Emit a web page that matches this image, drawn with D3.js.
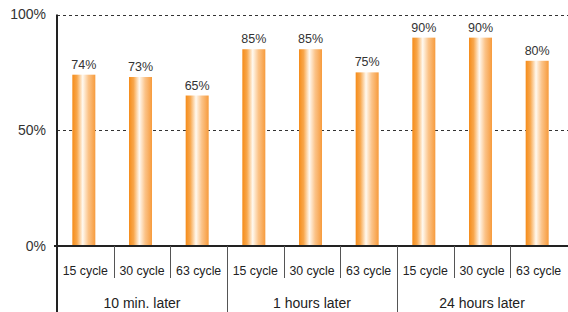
<!DOCTYPE html>
<html><head><meta charset="utf-8">
<script src="https://cdn.jsdelivr.net/npm/d3@7"></script>
<style>body{margin:0;background:#fff;}svg{display:block;font-family:"Liberation Sans",Arial,sans-serif;}</style>
</head><body><svg id="c" width="568" height="312"></svg>
<script>
const groups = ["10 min. later","1 hours later","24 hours later"];
const cycles = ["15 cycle","30 cycle","63 cycle"];
const values = [74,73,65,85,85,75,90,90,80];
const yTicks = [0,50,100];

const svg = d3.select("#c");
const x0 = 57, x1 = 567, yBase = 246, yTop = 14.5;
const cats = [];
groups.forEach((g,gi)=>cycles.forEach((c,ci)=>cats.push({g,c,key:gi+"-"+ci,v:values[gi*3+ci]})));

const x = d3.scaleBand().domain(cats.map(d=>d.key)).range([x0,x1]).paddingInner(0).paddingOuter(0);
const y = d3.scaleLinear().domain([0,100]).range([yBase,yTop]);

const defs = svg.append("defs");
const grad = defs.append("linearGradient").attr("id","bg").attr("x1","0").attr("x2","1").attr("y1","0").attr("y2","0");
grad.append("stop").attr("offset","0%").attr("stop-color","#f58c1a");
grad.append("stop").attr("offset","20%").attr("stop-color","#f8a74c");
grad.append("stop").attr("offset","45%").attr("stop-color","#fff9f0");
grad.append("stop").attr("offset","70%").attr("stop-color","#fbc388");
grad.append("stop").attr("offset","100%").attr("stop-color","#f79b3c");

// grid
svg.append("g").selectAll("line").data(yTicks.filter(t=>t>0)).join("line")
  .attr("x1",x0).attr("x2",568).attr("y1",d=>Math.round(y(d))+0.5).attr("y2",d=>Math.round(y(d))+0.5)
  .attr("stroke","#333").attr("stroke-width",1).attr("stroke-dasharray","3,3");

// y tick labels
svg.append("g").selectAll("text").data(yTicks).join("text")
  .attr("x",46).attr("y",d=>y(d)).attr("dy","0.35em").attr("text-anchor","end")
  .attr("font-size",14).attr("fill","#333").text(d=>d+"%");

const bw = 23;
// bars
svg.append("g").selectAll("rect").data(cats).join("rect")
  .attr("x",d=>x(d.key)+x.bandwidth()/2-bw/2-1.5).attr("width",bw)
  .attr("y",d=>y(d.v)).attr("height",d=>yBase-y(d.v)).attr("fill","url(#bg)");

// value labels
svg.append("g").selectAll("text").data(cats).join("text")
  .attr("x",d=>x(d.key)+x.bandwidth()/2-1.5).attr("y",d=>y(d.v)-6)
  .attr("text-anchor","middle").attr("font-size",12.5).attr("fill","#333").text(d=>d.v+"%");

// baseline
svg.append("line").attr("x1",x0-3).attr("x2",568).attr("y1",yBase).attr("y2",yBase).attr("stroke","#222").attr("stroke-width",2);
// y axis
svg.append("line").attr("x1",x0).attr("x2",x0).attr("y1",yTop).attr("y2",312).attr("stroke","#222").attr("stroke-width",2);

// minor dividers
svg.append("g").selectAll("line").data(cats.filter((d,i)=>i%3!==0)).join("line")
  .attr("x1",d=>Math.round(x(d.key))+0.5).attr("x2",d=>Math.round(x(d.key))+0.5)
  .attr("y1",yBase).attr("y2",278).attr("stroke","#555").attr("stroke-width",1);
// major dividers
svg.append("g").selectAll("line").data(cats.filter((d,i)=>i%3===0&&i>0)).join("line")
  .attr("x1",d=>Math.round(x(d.key))+0.5).attr("x2",d=>Math.round(x(d.key))+0.5)
  .attr("y1",yBase).attr("y2",312).attr("stroke","#555").attr("stroke-width",1);

// category labels
svg.append("g").selectAll("text").data(cats).join("text")
  .attr("x",d=>x(d.key)+x.bandwidth()/2).attr("y",275)
  .attr("text-anchor","middle").attr("font-size",12.3).attr("fill","#222").text(d=>d.c);

// group labels
svg.append("g").selectAll("text").data(groups).join("text")
  .attr("x",(d,i)=>x(i+"-1")+x.bandwidth()/2).attr("y",308)
  .attr("text-anchor","middle").attr("font-size",14).attr("fill","#222").text(d=>d);
</script></body></html>
